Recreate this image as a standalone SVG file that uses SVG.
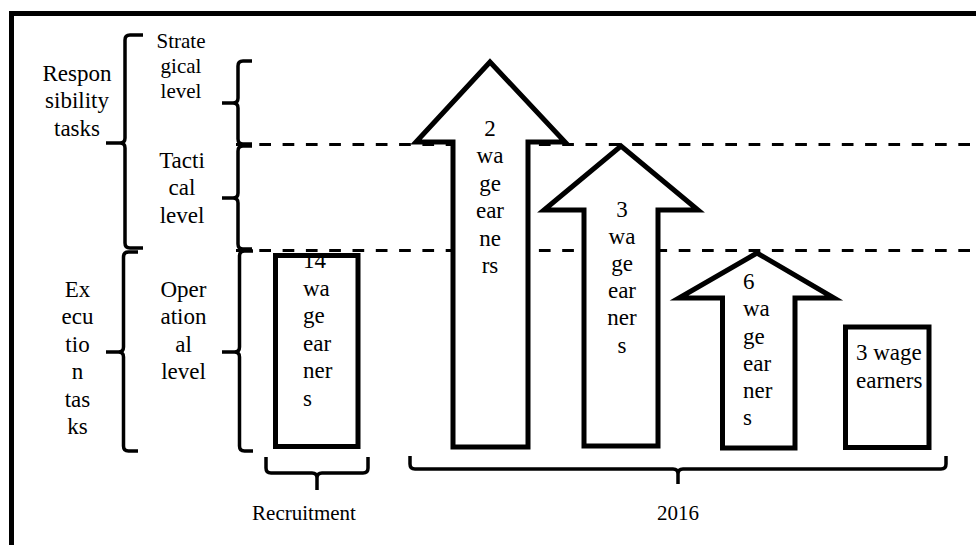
<svg xmlns="http://www.w3.org/2000/svg" width="976" height="545" viewBox="0 0 976 545">
<style>
text{font-family:"Liberation Serif","Times New Roman",serif;fill:#000;}
.t{font-size:23px;}
.s{font-size:21px;}
.m{text-anchor:middle;}
.shape{fill:#fff;stroke:#000;stroke-width:5;stroke-linejoin:miter;}
.br{fill:none;stroke:#000;stroke-width:3.5;stroke-linecap:butt;}
.dash{fill:none;stroke:#000;stroke-width:3;stroke-dasharray:11.7 11.6;}
</style>
<rect x="0" y="0" width="976" height="545" fill="#fff"/>
<path id="frame" d="M11.5,560 L11.5,13.5 L990,13.5" fill="none" stroke="#000" stroke-width="5"/>
<g id="connectors">
<line class="dash" x1="236" y1="144.5" x2="976" y2="144.5"/>
<line class="dash" x1="236" y1="250.5" x2="976" y2="250.5"/>
<path class="br" d="M143,35 L130,35 Q125,35 125,40 L125,138 Q125,143 120,143 L106,143 M120,143 Q125,143 125,148 L125,243 Q125,248 130,248 L143,248"/>
<path class="br" d="M252,61 L243,61 Q238,61 238,66 L238,98 Q238,103 233,103 L222,103 M233,103 Q238,103 238,108 L238,139 Q238,144 243,144 L252,144"/>
<path class="br" d="M252,146 L243,146 Q238,146 238,151 L238,193 Q238,198 233,198 L222,198 M233,198 Q238,198 238,203 L238,244 Q238,249 243,249 L252,249"/>
<path class="br" d="M138,252 L128.5,252 Q123.5,252 123.5,257 L123.5,347 Q123.5,352 118.5,352 L106,352 M118.5,352 Q123.5,352 123.5,357 L123.5,446 Q123.5,451 128.5,451 L138,451"/>
<path class="br" d="M253,251 L244.5,251 Q239.5,251 239.5,256 L239.5,347 Q239.5,352 234.5,352 L222,352 M234.5,352 Q239.5,352 239.5,357 L239.5,446 Q239.5,451 244.5,451 L253,451"/>
<path class="br" d="M266,457 L266,468 Q266,473 271,473 L312,473 Q317,473 317,478 L317,490 M317,478 Q317,473 322,473 L363,473 Q368,473 368,468 L368,457"/>
<path class="br" d="M410,456 L410,464 Q410,469 415,469 L673,469 Q678,469 678,474 L678,484 M678,474 Q678,469 683,469 L941,469 Q946,469 946,464 L946,456"/>
</g>
<g id="arrow-2">
<polygon class="shape" points="453,447 453,142 416,142 490,62 565,142 528,142 528,447"/>
<text class="t m"><tspan x="490" y="136">2</tspan><tspan x="490" y="163">wa</tspan><tspan x="490" y="190.5">ge</tspan><tspan x="490" y="218">ear</tspan><tspan x="490" y="245.5">ne</tspan><tspan x="490" y="273">rs</tspan></text>
</g>
<g id="arrow-3">
<polygon class="shape" points="584,446 584,210 544,210 621,146 698,210 658,210 658,446"/>
<text class="t m"><tspan x="622" y="217">3</tspan><tspan x="622" y="244">wa</tspan><tspan x="622" y="271">ge</tspan><tspan x="622" y="298">ear</tspan><tspan x="622" y="325">ner</tspan><tspan x="622" y="353">s</tspan></text>
</g>
<g id="arrow-6">
<polygon class="shape" points="722.5,448 722.5,298 679,298 757,253 834,298 795,298 795,448"/>
<text class="t"><tspan x="743" y="289">6</tspan><tspan x="743" y="316">wa</tspan><tspan x="743" y="343.5">ge</tspan><tspan x="743" y="371">ear</tspan><tspan x="743" y="398">ner</tspan><tspan x="743" y="425">s</tspan></text>
</g>
<g id="box-14">
<rect class="shape" x="275.5" y="255.5" width="82.5" height="191"/>
<text class="t"><tspan x="303" y="268">14</tspan><tspan x="303" y="295.5">wa</tspan><tspan x="303" y="323">ge</tspan><tspan x="303" y="350.5">ear</tspan><tspan x="303" y="378">ner</tspan><tspan x="303" y="405.5">s</tspan></text>
</g>
<g id="box-3">
<rect class="shape" x="845.5" y="327" width="83.5" height="120.5"/>
<text class="t"><tspan x="856" y="360">3 wage</tspan><tspan x="856" y="388">earners</tspan></text>
</g>
<g id="label-responsibility">
<text class="t m"><tspan x="77" y="81">Respon</tspan><tspan x="77" y="108">sibility</tspan><tspan x="77" y="136">tasks</tspan></text>
</g>
<g id="label-strategical">
<text class="s m"><tspan x="181" y="48">Strate</tspan><tspan x="181" y="73">gical</tspan><tspan x="181" y="98">level</tspan></text>
</g>
<g id="label-tactical">
<text class="t m"><tspan x="182" y="168">Tacti</tspan><tspan x="182" y="195">cal</tspan><tspan x="182" y="223">level</tspan></text>
</g>
<g id="label-execution">
<text class="t m"><tspan x="77.5" y="297">Ex</tspan><tspan x="77.5" y="324">ecu</tspan><tspan x="77.5" y="352">tio</tspan><tspan x="77.5" y="379">n</tspan><tspan x="77.5" y="407">tas</tspan><tspan x="77.5" y="434">ks</tspan></text>
</g>
<g id="label-operational">
<text class="t m"><tspan x="183.5" y="297">Oper</tspan><tspan x="183.5" y="324">ation</tspan><tspan x="183.5" y="352">al</tspan><tspan x="183.5" y="379">level</tspan></text>
</g>
<g id="label-recruitment">
<text class="s m" x="304" y="520">Recruitment</text>
</g>
<g id="label-2016">
<text class="s m" x="678" y="520">2016</text>
</g>
</svg>
